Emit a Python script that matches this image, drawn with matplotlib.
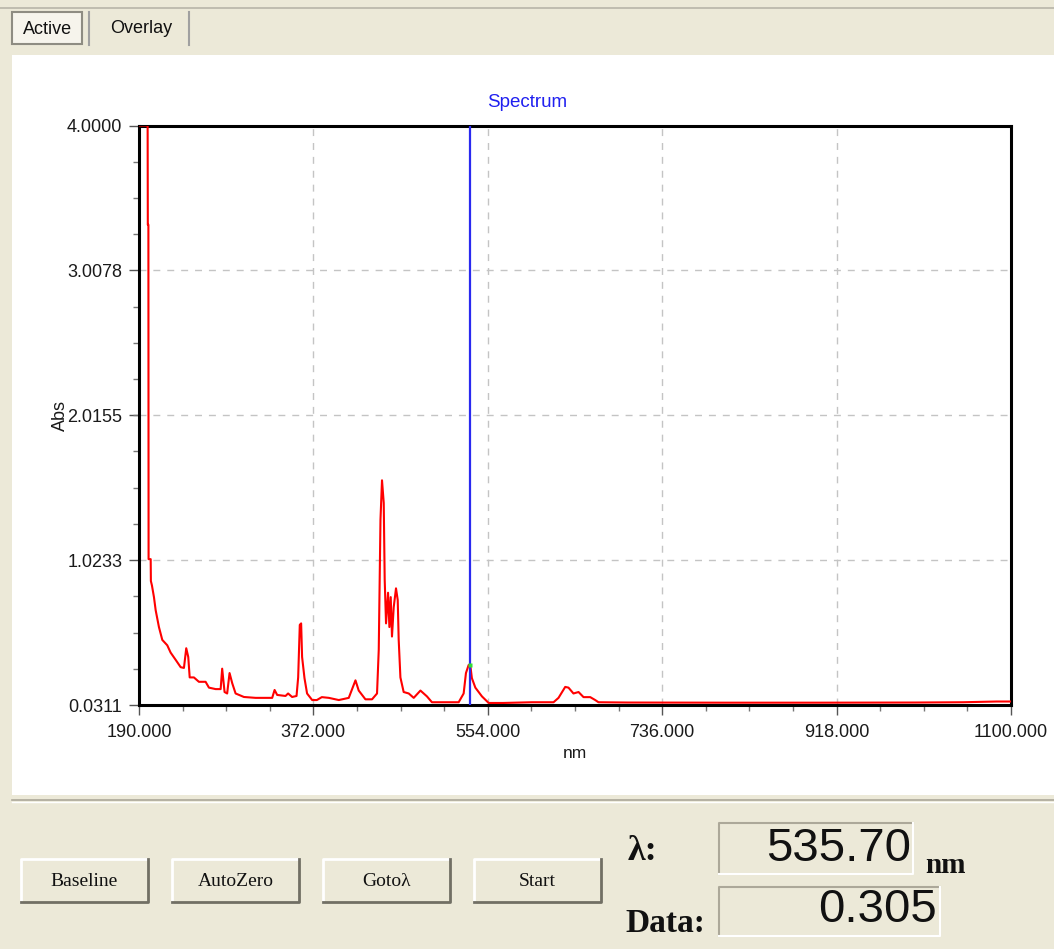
import matplotlib
matplotlib.use("Agg")
from matplotlib import pyplot as plt
from matplotlib.patches import Rectangle

# spectrum: wavelength (nm) and absorbance
wavelength = [190.0, 199.0, 199.2, 199.8, 200.0, 202.2, 202.4, 203.5, 205.6, 207.4,
              210.8, 214.3, 219.5, 223.0, 228.3, 233.5, 236.9, 239.3, 241.4, 242.9,
              247.3, 252.5, 259.5, 263.0, 270.0, 275.2, 276.8, 279.3, 282.0, 284.5,
              287.3, 290.8, 299.5, 311.7, 329.0, 331.5, 334.2, 342.9, 345.6, 349.8,
              354.4, 356.1, 357.8, 359.2, 360.2, 362.7, 365.4, 370.7, 375.6, 380.8,
              388.1, 398.5, 408.9, 415.9, 419.3, 426.3, 433.2, 438.4, 440.2, 442.0,
              443.6, 445.4, 446.4, 447.8, 449.9, 451.3, 452.7, 454.0, 455.8, 458.2,
              460.0, 461.0, 462.8, 466.2, 471.5, 476.7, 483.7, 490.5, 495.7, 523.6,
              528.8, 531.2, 534.0, 535.7, 537.4, 541.0, 547.9, 554.9, 570.0, 600.0,
              622.6, 627.8, 634.8, 638.2, 643.4, 648.7, 653.9, 660.9, 666.1, 669.5,
              700.0, 800.0, 900.0, 1000.0, 1050.0, 1085.0, 1100.0]
absorb = [4.0, 4.0, 3.32, 3.32, 1.03, 1.03, 0.88, 0.85, 0.77, 0.68,
          0.565, 0.477, 0.44, 0.39, 0.34, 0.29, 0.285, 0.42, 0.36, 0.22,
          0.22, 0.19, 0.19, 0.15, 0.14, 0.14, 0.28, 0.12, 0.11, 0.25,
          0.18, 0.11, 0.086, 0.08, 0.08, 0.134, 0.10, 0.093, 0.11, 0.086,
          0.093, 0.22, 0.58, 0.59, 0.36, 0.215, 0.11, 0.065, 0.065, 0.085,
          0.08, 0.065, 0.08, 0.20, 0.13, 0.07, 0.07, 0.11, 0.41, 1.30,
          1.57, 1.415, 0.89, 0.59, 0.80, 0.565, 0.77, 0.50, 0.70, 0.83,
          0.75, 0.48, 0.22, 0.12, 0.11, 0.08, 0.13, 0.09, 0.05, 0.05,
          0.11, 0.25, 0.305, 0.305, 0.215, 0.15, 0.09, 0.045, 0.045, 0.05,
          0.05, 0.08, 0.155, 0.15, 0.11, 0.12, 0.085, 0.085, 0.065, 0.05,
          0.048, 0.047, 0.047, 0.048, 0.05, 0.055, 0.055]

xticks = [190.0, 372.0, 554.0, 736.0, 918.0, 1100.0]
yticks = [0.0311, 1.0233, 2.0155, 3.0078, 4.0000]

cursor_nm = 535.70
cursor_abs = 0.305

buttons = ['Baseline', 'AutoZero', 'Goto\u03bb', 'Start']

W, H = 1054, 949
beige = '#ECE9D8'
serif = ['Liberation Serif', 'DejaVu Serif']

fig = plt.figure(figsize=(W / 100, H / 100), dpi=100, facecolor=beige)

# window background drawn in pixel units
ui = fig.add_axes([0, 0, 1, 1])
ui.set_xlim(0, W)
ui.set_ylim(H, 0)
ui.axis('off')

ui.plot([0, W], [8, 8], color='#B8B5A8', lw=1.2)
ui.add_patch(Rectangle((12, 55), W - 12, 740, fc='white', ec='none'))
ui.plot([12, W], [800, 800], color='#ACA899', lw=1.2)
ui.plot([12, W], [802, 802], color='white', lw=1.0)

# tabs
ui.add_patch(Rectangle((12, 12), 70, 32, fc='#F6F4EC', ec='#8E8C82', lw=1.5))
ui.text(48, 29, 'Active', ha='center', va='center', fontsize=13,
        family='Liberation Sans', color='#111111')
ui.plot([89, 89], [12, 45], color='#A0A0A0', lw=1.5)
ui.plot([189, 189], [12, 45], color='#A0A0A0', lw=1.5)
ui.text(141, 28, 'Overlay', ha='center', va='center', fontsize=13,
        family='Liberation Sans', color='#111111')


def raised(x0, y0, x1, y1):
    ui.add_patch(Rectangle((x0, y0), x1 - x0, y1 - y0, fc=beige, ec='none'))
    ui.plot([x0, x0, x1], [y1, y0, y0], color='white', lw=2)
    ui.plot([x0, x1, x1], [y1, y1, y0], color='#716F64', lw=2)


def sunken(x0, y0, x1, y1):
    ui.add_patch(Rectangle((x0, y0), x1 - x0, y1 - y0, fc=beige, ec='none'))
    ui.plot([x0, x0, x1], [y1, y0, y0], color='#ACA899', lw=1.5)
    ui.plot([x0, x1, x1], [y1, y1, y0], color='white', lw=1.5)


for i, name in enumerate(buttons):
    x0 = 21 + i * 151
    raised(x0, 859, x0 + 127, 902)
    ui.text(x0 + 63.5, 881, name, ha='center', va='center', fontsize=14,
            family=serif, color='#111111')

sunken(719, 823, 913, 874)
sunken(719, 887, 940, 936)
ui.text(643, 851, '\u03bb:', ha='center', va='center', fontsize=26,
        family=serif, weight='bold', color='#111111')
ui.text(911, 849, '%.2f' % cursor_nm, ha='right', va='center', fontsize=34,
        family='Liberation Sans', color='#111111')
ui.text(945, 873, 'nm', ha='center', va='baseline', fontsize=21,
        family=serif, weight='bold', color='#111111')
ui.text(665, 932, 'Data:', ha='center', va='baseline', fontsize=24,
        family=serif, weight='bold', color='#111111')
ui.text(937, 910, '%.3f' % cursor_abs, ha='right', va='center', fontsize=34,
        family='Liberation Sans', color='#111111')

# the chart
ax = fig.add_axes([139 / W, 1 - 705 / H, 872 / W, 579.5 / H])
ax.set_zorder(2)
ax.set_facecolor('white')
ax.plot(wavelength, absorb, color='#FF0000', lw=1.5, zorder=3)
ax.axvline(cursor_nm, color='#2A2AF0', lw=1.6, zorder=4)
ax.plot([cursor_nm], [cursor_abs], marker='s', ms=3, color='#33DD33',
        mec='none', zorder=5)

ax.set_xlim(xticks[0], xticks[-1])
ax.set_ylim(yticks[0], yticks[-1])
ax.set_xticks(xticks)
ax.set_xticklabels(['%.3f' % v for v in xticks])
ax.set_yticks(yticks)
ax.set_yticklabels(['%.4f' % v for v in yticks])
ax.set_xticks([xticks[0] + 45.5 * i for i in range(21)], minor=True)
ax.set_yticks([yticks[0] + 0.248056 * i for i in range(17)], minor=True)

ax.tick_params(which='major', direction='out', length=7, width=1,
               color='#555555', labelsize=13, pad=5, labelcolor='#1A1A1A')
ax.tick_params(axis='x', which='major', pad=7)
ax.tick_params(which='minor', direction='out', length=4, width=1, color='#777777')
for lab in ax.get_xticklabels() + ax.get_yticklabels():
    lab.set_family('Liberation Sans')

ax.grid(True, which='major', color='#C4C4C4', lw=1.0, ls=(0, (5, 5)))
for sp in ax.spines.values():
    sp.set_linewidth(2.2)
    sp.set_color('black')

# the title sits at the centre of the window, not of the plot box
ax.set_title('Spectrum', color='#2020F0', fontsize=13.5, pad=13,
             family='Liberation Sans', x=(527 - 139) / 872)
ax.set_xlabel('nm', fontsize=12.5, family='Liberation Sans', color='#1A1A1A')
ax.xaxis.set_label_coords(0.5, -0.071)
ax.set_ylabel('Abs', fontsize=13, family='Liberation Sans', color='#1A1A1A')
ax.yaxis.set_label_coords(-0.08, 0.5)

fig.savefig('out.png', dpi=100, facecolor=beige)
